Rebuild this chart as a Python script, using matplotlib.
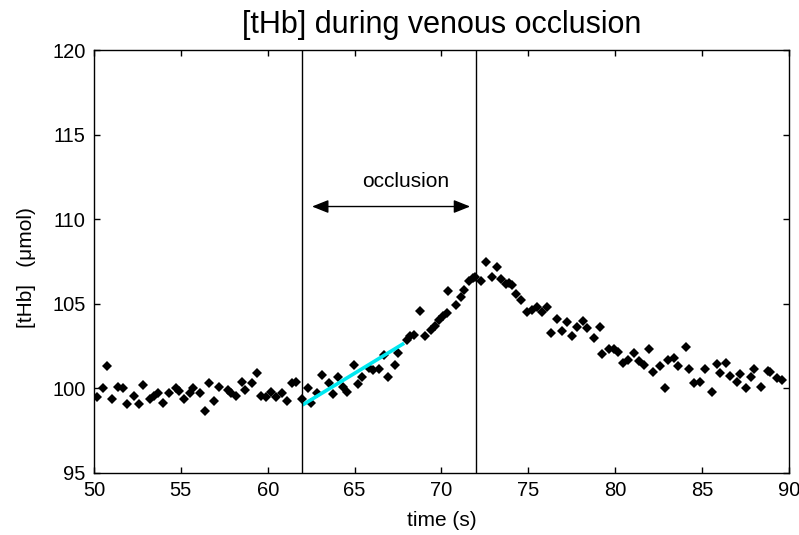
import matplotlib
matplotlib.use("Agg")
import matplotlib.pyplot as plt

# --- DATA ---
time_s = [
    50.19, 50.54, 50.73, 51.04, 51.38, 51.69, 51.92, 52.30, 52.60, 52.80,
    53.22, 53.45, 53.70, 54.00, 54.30, 54.70, 54.90, 55.20, 55.50, 55.70,
    56.10, 56.40, 56.60, 56.90, 57.20, 57.70, 57.90, 58.20, 58.50, 58.70,
    59.10, 59.40, 59.60, 59.90, 60.20, 60.50, 60.80, 61.10, 61.40, 61.60,
    61.97, 62.30, 62.50, 62.85, 63.15, 63.55, 63.73, 64.07, 64.34, 64.57,
    64.95, 65.20, 65.40, 65.80, 66.03, 66.40, 66.70, 66.90, 67.35, 67.50,
    68.00, 68.20, 68.40, 68.75, 69.04, 69.40, 69.65, 69.86, 70.10, 70.30,
    70.40, 70.83, 71.10, 71.30, 71.60, 71.80, 71.95, 72.30, 72.55, 72.90,
    73.20, 73.40, 73.70, 73.90, 74.05, 74.30, 74.60, 74.90, 75.20, 75.50,
    75.76, 76.10, 76.30, 76.65, 76.96, 77.20, 77.50, 77.77, 78.15, 78.40,
    78.76, 79.10, 79.26, 79.64, 79.90, 80.16, 80.45, 80.74, 81.10, 81.38,
    81.65, 81.95, 82.15, 82.57, 82.86, 83.05, 83.40, 83.64, 84.06, 84.26,
    84.53, 84.90, 85.16, 85.54, 85.83, 86.05, 86.36, 86.60, 87.00, 87.20,
    87.50, 87.80, 88.00, 88.40, 88.78, 88.90, 89.30, 89.57,
]
thb = [
    99.48, 100.01, 101.33, 99.36, 100.10, 100.00, 99.08, 99.56, 99.08, 100.22,
    99.36, 99.56, 99.75, 99.16, 99.75, 100.00, 99.87, 99.36, 99.75, 100.00,
    99.75, 98.65, 100.30, 99.28, 100.10, 99.90, 99.75, 99.56, 100.40, 99.90,
    100.30, 100.93, 99.56, 99.48, 99.81, 99.48, 99.75, 99.28, 100.30, 100.40,
    99.36, 100.00, 99.16, 99.72, 100.80, 100.30, 99.67, 100.70, 100.10, 99.81,
    101.39, 100.27, 100.70, 101.20, 101.10, 101.14, 101.98, 100.70, 101.39, 102.12,
    102.87, 103.07, 103.17, 104.60, 103.07, 103.46, 103.66, 104.05, 104.29, 104.45,
    105.73, 104.94, 105.40, 105.83, 106.32, 106.52, 106.58, 106.32, 107.46, 106.58,
    107.20, 106.46, 106.18, 106.22, 106.12, 105.59, 105.24, 104.54, 104.64, 104.84,
    104.49, 104.84, 103.27, 104.10, 103.42, 103.95, 103.07, 103.62, 104.00, 103.56,
    102.97, 103.62, 102.04, 102.32, 102.32, 102.18, 101.53, 101.69, 102.12, 101.59,
    101.39, 102.32, 100.99, 101.33, 100.01, 101.65, 101.79, 101.33, 102.47, 101.14,
    100.31, 100.40, 101.14, 99.81, 101.45, 100.93, 101.53, 100.74, 100.40, 100.86,
    100.01, 100.70, 101.14, 100.07, 101.05, 100.99, 100.60, 100.50,
]

# linear fit over the start of the occlusion
fit_t = [62.0, 67.85]
fit_thb = [99.02, 102.67]

occl_start = 62
occl_end = 72

xticks = [50, 55, 60, 65, 70, 75, 80, 85, 90]
yticks = [95, 100, 105, 110, 115, 120]

# --- FIGURE ---
plt.rcParams["font.family"] = ["Liberation Sans", "DejaVu Sans"]

fig = plt.figure(figsize=(7.99, 5.35), dpi=100)
ax = fig.add_axes([0.1176, 0.1159, 0.8699, 0.7906])

ax.plot(time_s, thb, linestyle="none", marker="D", markersize=4.8,
        color="black", markeredgewidth=0)
ax.plot(fit_t, fit_thb, color="#00e8f0", linewidth=2.6, solid_capstyle="butt")

ax.axvline(occl_start, color="black", linewidth=1.0)
ax.axvline(occl_end, color="black", linewidth=1.0)

ax.annotate("", xy=(62.55, 110.75), xytext=(71.65, 110.75),
            arrowprops=dict(arrowstyle="<|-|>,head_length=1.0,head_width=0.4",
                            color="black", linewidth=1.0, shrinkA=0, shrinkB=0))
ax.text(67.95, 112.2, "occlusion", ha="center", va="center", fontsize=15)

ax.set_xlim(50, 90)
ax.set_ylim(95, 120)
ax.set_xticks(xticks)
ax.set_yticks(yticks)
ax.tick_params(direction="in", length=4.5, width=1.0, top=True, right=True,
               labelsize=14.5)
ax.tick_params(axis="x", pad=6)
ax.tick_params(axis="y", pad=6)
for s in ax.spines.values():
    s.set_linewidth(1.0)

ax.set_xlabel("time (s)", fontsize=15)
ax.xaxis.set_label_coords(0.5, -0.09)
ax.set_ylabel("[tHb]   (\u03bcmol)", fontsize=15)
ax.yaxis.set_label_coords(-0.084, 0.485)
ax.set_title("[tHb] during venous occlusion", fontsize=22, pad=12)

fig.savefig("out.png", dpi=100)
plt.close(fig)
